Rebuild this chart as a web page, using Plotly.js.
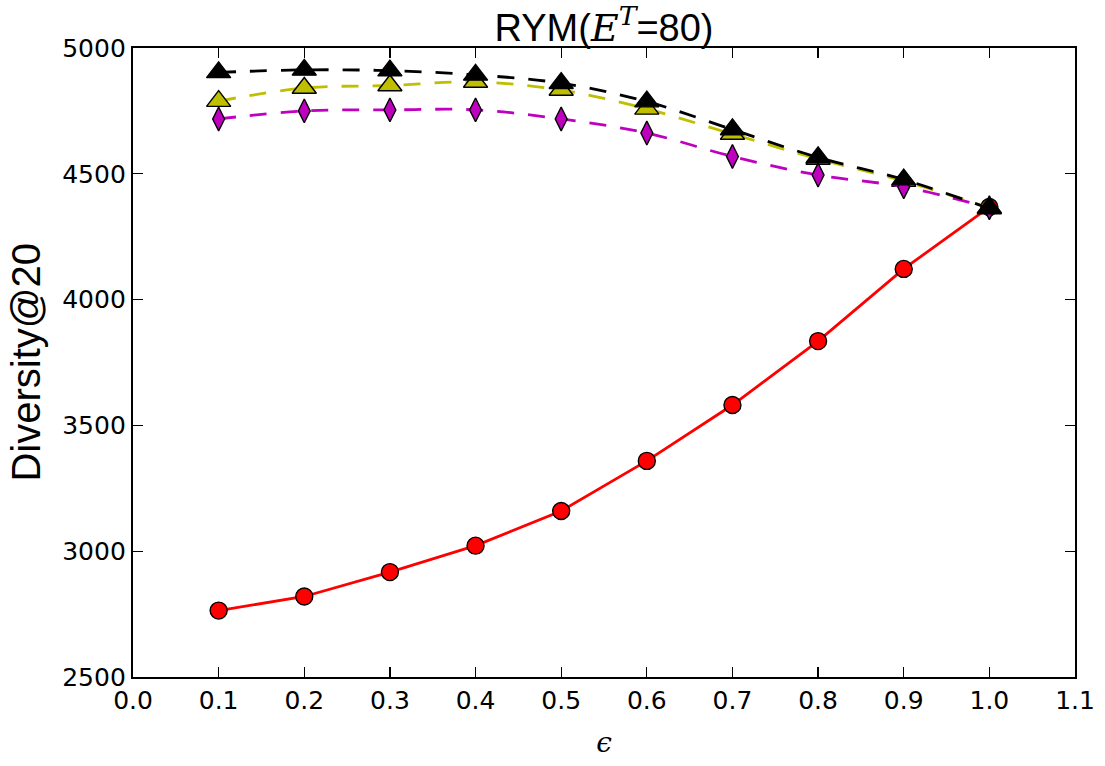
<!DOCTYPE html>
<html>
<head>
<meta charset="utf-8">
<script src="https://cdn.plot.ly/plotly-3.0.1.min.js"></script>
<style>
  html, body { margin: 0; padding: 0; background: #fff; }
  #chart { width: 1105px; height: 766px; }
</style>
</head>
<body>
<div id="chart"></div>
<script>
// ---- data ----
const epsilon = [0.1, 0.2, 0.3, 0.4, 0.5, 0.6, 0.7, 0.8, 0.9, 1.0];
const redSeries     = [2764, 2820, 2917, 3022, 3160, 3359, 3581, 3835, 4122, 4368];
const yellowSeries  = [4789, 4841, 4851, 4865, 4833, 4758, 4658, 4559, 4471, 4365];
const magentaSeries = [4718, 4750, 4754, 4754, 4718, 4662, 4569, 4495, 4448, 4365];
const blackSeries   = [4903, 4913, 4910, 4893, 4860, 4787, 4676, 4565, 4477, 4362];
const xTickVals = [0.0, 0.1, 0.2, 0.3, 0.4, 0.5, 0.6, 0.7, 0.8, 0.9, 1.0, 1.1];
const xTickText = ["0.0","0.1","0.2","0.3","0.4","0.5","0.6","0.7","0.8","0.9","1.0","1.1"];
const yTickVals = [2500, 3000, 3500, 4000, 4500, 5000];
const yTickText = ["2500","3000","3500","4000","4500","5000"];
const yTitleText = 'Diversity@20';

const dashPat = "17px,14px";
const lw = 2.8;
const traces = [
  {
    x: epsilon, y: redSeries, type: 'scatter', mode: 'lines+markers',
    line: { color: '#ff0000', width: lw },
    marker: { symbol: 'circle', size: 17, color: '#ff0000', line: { color: '#000', width: 1.4 } },
    cliponaxis: false
  },
  {
    x: epsilon, y: yellowSeries, type: 'scatter', mode: 'lines+markers',
    line: { color: '#bfbf00', width: lw, dash: dashPat, shape: 'spline', smoothing: 1 },
    marker: { symbol: 'triangle-up', size: 21, color: '#bfbf00', line: { color: '#000', width: 1.4 } },
    cliponaxis: false
  },
  {
    x: epsilon, y: magentaSeries, type: 'scatter', mode: 'lines+markers',
    line: { color: '#bf00bf', width: lw, dash: dashPat, shape: 'spline', smoothing: 1 },
    marker: { symbol: 'diamond-tall', size: 17, color: '#bf00bf', line: { color: '#000', width: 1.4 } },
    cliponaxis: false
  },
  {
    x: epsilon, y: blackSeries, type: 'scatter', mode: 'lines+markers',
    line: { color: '#000000', width: lw, dash: dashPat, shape: 'spline', smoothing: 1 },
    marker: { symbol: 'triangle-up', size: 21, color: '#000000', line: { color: '#000', width: 1.4 } },
    cliponaxis: false
  }
];

const tickFont = { family: 'DejaVu Sans', size: 25, color: '#000' };
const layout = {
  width: 1105, height: 766,
  paper_bgcolor: '#fff', plot_bgcolor: '#fff',
  showlegend: false,
  margin: { l: 133, r: 30, t: 48, b: 89, pad: 0 },
  title: {
    text: 'RYM(<span style="font-family:\'DejaVu Serif\'"><i>E</i><sup><i>T</i></sup></span>=80)',
    font: { family: 'Liberation Sans', size: 38, color: '#000' },
    x: 0.5, xanchor: 'center', xref: 'paper',
    y: 1, yref: 'paper', yanchor: 'bottom', pad: { b: 7 }
  },
  xaxis: {
    range: [0, 1.1], tickmode: 'array', tickvals: xTickVals, ticktext: xTickText,
    ticks: 'inside', ticklen: 10, tickwidth: 1.3, tickcolor: '#000',
    showline: true, linecolor: '#000', linewidth: 2.2, mirror: 'allticks',
    showgrid: false, zeroline: false, tickfont: tickFont,
    title: { text: '<i>ϵ</i>', font: { family: 'DejaVu Serif', size: 28, color: '#000' }, standoff: 18 }
  },
  yaxis: {
    range: [2500, 5000], tickmode: 'array', tickvals: yTickVals, ticktext: yTickText,
    ticks: 'inside', ticklen: 10, tickwidth: 1.3, tickcolor: '#000',
    showline: true, linecolor: '#000', linewidth: 2.2, mirror: 'allticks',
    showgrid: false, zeroline: false, tickfont: tickFont
  },
  annotations: [{
    text: yTitleText, textangle: -90, showarrow: false,
    xref: 'paper', yref: 'paper', x: -0.1146, y: 0.5, xanchor: 'center', yanchor: 'middle',
    borderpad: 0,
    font: { family: 'Liberation Sans', size: 40, color: '#000' }
  }]
};

Plotly.newPlot('chart', traces, layout, { displayModeBar: false, staticPlot: true });
</script>
</body>
</html>
